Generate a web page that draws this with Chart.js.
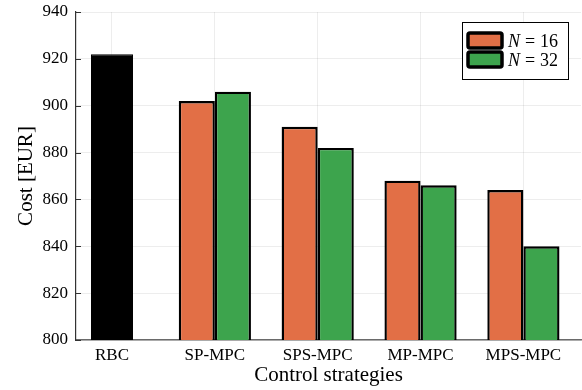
<!DOCTYPE html>
<html>
<head>
<meta charset="utf-8">
<script src="https://cdn.jsdelivr.net/npm/chart.js@4.4.1/dist/chart.umd.min.js"></script>
<style>
  html, body { margin: 0; padding: 0; background: #fff; }
  #wrap { width: 582px; height: 390px; }
</style>
</head>
<body>
<div id="wrap"><canvas id="c" width="582" height="390"></canvas></div>
<script>
const categories = ['RBC', 'SP-MPC', 'SPS-MPC', 'MP-MPC', 'MPS-MPC'];
const rbcValues = [922, null, null, null, null];
const n16Values = [null, 902, 891, 868, 864];
const n32Values = [null, 906, 882, 866, 840];
const yTicks = [800, 820, 840, 860, 880, 900, 920, 940];
const seriesLabels = ['RBC', 'N = 16', 'N = 32'];

const toPts = vals => vals.map((v, i) => ({ x: i + 1, y: v }));

Chart.defaults.font.family = "'Liberation Serif', 'DejaVu Serif', serif";
Chart.defaults.color = '#000';

const legendPlugin = {
  id: 'boxLegend',
  afterDraw(chart) {
    const ctx = chart.ctx;
    ctx.save();
    const bx = 462.5, by = 22.5, bw = 106, bh = 57;
    ctx.fillStyle = '#fff';
    ctx.fillRect(bx, by, bw, bh);
    ctx.strokeStyle = '#000';
    ctx.lineWidth = 1;
    ctx.strokeRect(bx, by, bw, bh);
    const items = [
      { ds: chart.data.datasets[1], y: 33, num: '16' },
      { ds: chart.data.datasets[2], y: 52, num: '32' }
    ];
    items.forEach(it => {
      ctx.beginPath();
      if (ctx.roundRect) ctx.roundRect(468, it.y, 34, 15, 2); else ctx.rect(468, it.y, 34, 15);
      ctx.fillStyle = it.ds.backgroundColor;
      ctx.fill();
      ctx.lineWidth = 3.5;
      ctx.strokeStyle = '#000';
      ctx.stroke();
      ctx.fillStyle = '#000';
      ctx.textBaseline = 'alphabetic';
      ctx.textAlign = 'left';
      ctx.font = "italic 18px 'Liberation Serif', serif";
      ctx.fillText('N', 508, it.y + 14);
      ctx.font = "18px 'Liberation Serif', serif";
      ctx.fillText('=', 525, it.y + 14);
      ctx.fillText(it.num, 540, it.y + 14);
    });
    ctx.restore();
  }
};

const tickMarkPlugin = {
  id: 'inTicks',
  afterDraw(chart) {
    const ctx = chart.ctx;
    const ys = chart.scales.y;
    const left = chart.chartArea.left;
    ctx.save();
    ctx.strokeStyle = '#333';
    ctx.lineWidth = 1;
    ys.ticks.forEach(t => {
      const p = Math.round(ys.getPixelForValue(t.value)) + 0.5;
      ctx.beginPath();
      ctx.moveTo(left, p);
      ctx.lineTo(left + 5, p);
      ctx.stroke();
    });
    ctx.restore();
  }
};

new Chart(document.getElementById('c'), {
  type: 'bar',
  data: {
    datasets: [
      { label: seriesLabels[0], data: toPts(rbcValues), backgroundColor: '#000000', borderColor: '#000000', borderWidth: 1, maxBarThickness: 42, skipNull: true },
      { label: seriesLabels[1], data: toPts(n16Values), backgroundColor: '#e26f46', borderColor: '#000000', borderWidth: 2.4, skipNull: true },
      { label: seriesLabels[2], data: toPts(n32Values), backgroundColor: '#3da44d', borderColor: '#000000', borderWidth: 2.4, skipNull: true }
    ]
  },
  options: {
    responsive: false,
    animation: false,
    devicePixelRatio: 1,
    categoryPercentage: 0.702,
    barPercentage: 1.0,
    layout: { padding: { top: 12, right: 1, left: 0, bottom: 0 } },
    plugins: { legend: { display: false }, tooltip: { enabled: false } },
    scales: {
      x: {
        type: 'linear',
        min: 0.65,
        max: 5.56,
        offset: false,
        afterBuildTicks: s => { s.ticks = categories.map((c, i) => ({ value: i + 1 })); },
        afterFit: s => { s.height = 50; s.paddingLeft = 0; s.paddingRight = 0; },
        ticks: {
          autoSkip: false,
          maxRotation: 0,
          padding: 5,
          font: { size: 17 },
          callback: v => categories[Math.round(v) - 1]
        },
        grid: { offset: false, color: 'rgba(0,0,0,0.07)', drawTicks: false },
        border: { color: '#6a6a6a', width: 1.5 },
        title: { display: true, text: 'Control strategies', font: { size: 21 }, padding: { top: 0, bottom: 2 } }
      },
      y: {
        min: 800,
        max: 940,
        afterBuildTicks: s => { s.ticks = yTicks.map(v => ({ value: v })); },
        afterFit: s => { s.width = 76; s.paddingTop = 0; s.paddingBottom = 0; },
        ticks: { padding: 8, font: { size: 17 } },
        grid: { color: 'rgba(0,0,0,0.07)', drawTicks: false },
        border: { color: '#333', width: 1.2 },
        title: { display: true, text: 'Cost [EUR]', font: { size: 21 }, padding: { top: 14, bottom: 0 } }
      }
    }
  },
  plugins: [legendPlugin, tickMarkPlugin]
});
</script>
</body>
</html>
